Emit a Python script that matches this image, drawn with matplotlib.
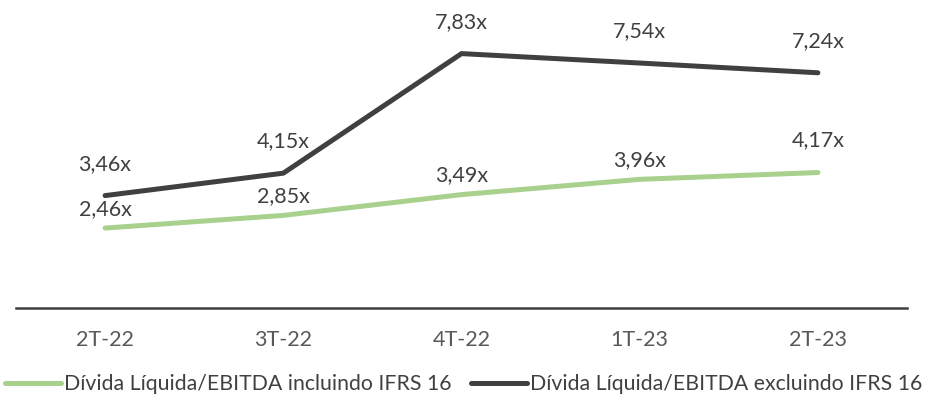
import matplotlib.pyplot as plt

categorias = ['2T-22', '3T-22', '4T-22', '1T-23', '2T-23']
incluindo = [2.46, 2.85, 3.49, 3.96, 4.17]
excluindo = [3.46, 4.15, 7.83, 7.54, 7.24]

verde = '#a9d18e'
escuro = '#404040'

plt.rcParams['font.family'] = ['Lato', 'DejaVu Sans']

fig = plt.figure(figsize=(9.27, 4), dpi=100)
ax = fig.add_axes([16 / 927, 0.23, 891 / 927, 0.731])

x = range(len(categorias))
ax.plot(x, incluindo, color=verde, lw=3.6, solid_capstyle='round',
        label='Dívida Líquida/EBITDA incluindo IFRS 16')
ax.plot(x, excluindo, color=escuro, lw=3.6, solid_capstyle='round',
        label='Dívida Líquida/EBITDA excluindo IFRS 16')

# rótulos acima dos pontos
for i, v in enumerate(excluindo):
    ax.annotate(f'{v:.2f}x'.replace('.', ','), (i, v), xytext=(0, 23),
                textcoords='offset points', ha='center', va='center',
                fontsize=15.5, color=escuro)
for i, v in enumerate(incluindo):
    off = 23 if i == 4 else 14
    ax.annotate(f'{v:.2f}x'.replace('.', ','), (i, v), xytext=(0, off),
                textcoords='offset points', ha='center', va='center',
                fontsize=15.5, color=escuro)

ax.set_xlim(-0.5, len(categorias) - 0.5)
ax.set_ylim(0, 9)
ax.set_xticks(list(x))
ax.set_xticklabels(categorias, fontsize=15.5, color='#595959')
ax.tick_params(axis='x', length=0, pad=16)
ax.set_yticks([])
for s in ['top', 'right', 'left']:
    ax.spines[s].set_visible(False)
ax.spines['bottom'].set_color(escuro)
ax.spines['bottom'].set_linewidth(1.8)

fig.legend(loc='lower center', bbox_to_anchor=(0.5, -0.028), ncol=2,
           frameon=False, fontsize=15.3, handlelength=2.65, handletextpad=0.15,
           columnspacing=0.9, borderpad=0.3, labelcolor='#404040')

fig.savefig('out.png', dpi=100)
